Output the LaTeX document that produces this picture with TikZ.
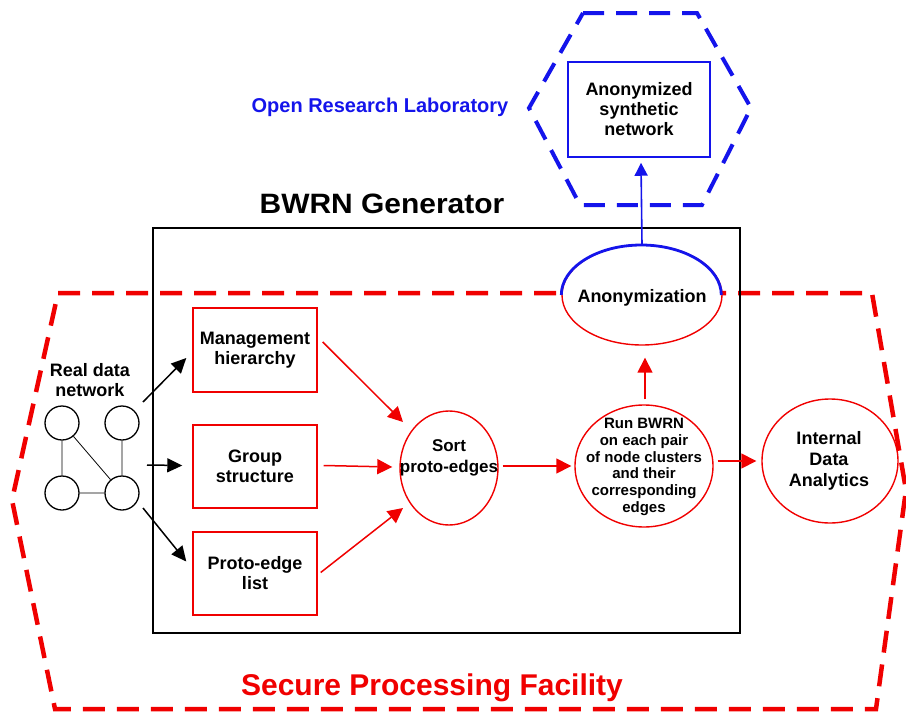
\documentclass[tikz,border=0pt]{standalone}
\usepackage{fontspec}
\setmainfont{Liberation Sans}
\usetikzlibrary{arrows.meta,shapes.geometric,calc}
\definecolor{myred}{RGB}{240,0,0}
\definecolor{myblue}{RGB}{20,20,235}
\begin{document}
\begin{tikzpicture}[x=1pt,y=-1pt,
  txt/.style={font=\bfseries\fontsize{18}{20}\selectfont, align=center, inner sep=0},
  redbox/.style={draw=myred, line width=1.4pt, minimum width=124pt, minimum height=84pt, txt},
  redell/.style={draw=myred, line width=1.4pt, ellipse, inner sep=0},
  redarr/.style={draw=myred, line width=1.5pt, -{Triangle[length=15pt,width=15pt]}},
  blkarr/.style={draw=black, line width=1.5pt, -{Triangle[length=15pt,width=14pt]}},
  bluearr/.style={draw=myblue, line width=1.6pt, -{Triangle[length=13pt,width=13pt]}},
  smallc/.style={circle, draw, line width=1.3pt, minimum size=34pt, inner sep=0},
]
\useasboundingbox (0,0) rectangle (906,715);

% secure processing facility outline
\draw[myred, line width=4.5pt, dash pattern=on 22pt off 12pt, line join=miter]
  (58,293) -- (872,293) -- (906,490) -- (876,709) -- (55,709) -- (12,500) -- cycle;

% generator box
\node[draw, line width=2.8pt, minimum width=587pt, minimum height=405pt, inner sep=0] (gen) at (446.5,430.5) {};
\node[txt, font=\bfseries\fontsize{28}{30}\selectfont] (gentitle) at (382,204) {\scalebox{1.07}[1]{BWRN Generator}};

% open research laboratory
\draw[myblue, line width=4pt, dash pattern=on 21pt off 12pt]
  (583,13) -- (697,13) -- (751,108) -- (702,205) -- (580,205) -- (529,108) -- cycle;
\node[draw=myblue, line width=1.5pt, minimum width=142pt, minimum height=95pt, txt] (syn) at (639,109.5) {Anonymized\\synthetic\\network};
\node[txt, text=myblue, font=\bfseries\fontsize{20}{22}\selectfont] (orl) at (380,107) {Open Research Laboratory};

% anonymization
\node[redell, fill=white, minimum width=160pt, minimum height=100pt] (anon) at (642,295) {};
\draw[myblue, line width=2.8pt] (anon.west) arc[start angle=180, end angle=360, x radius=80, y radius=50];
\node[txt] (anontxt) at (642,298) {Anonymization};

% run BWRN
\node[redell, minimum width=138pt, minimum height=122pt] (run) at (644,466) {};
\node[txt, font=\bfseries\fontsize{15}{16.7}\selectfont] (runtxt) at (644,467) {Run BWRN\\on each pair\\of node clusters\\and their\\corresponding\\edges};

% internal data analytics
\node[redell, minimum width=136pt, minimum height=124pt] (ida) at (830,461) {};
\node[txt, font=\bfseries\fontsize{18}{21}\selectfont] (idatxt) at (829,461) {Internal\\Data\\Analytics};

% sort
\node[redell, minimum width=98pt, minimum height=114pt] (sort) at (449,468) {};
\node[txt, font=\bfseries\fontsize{17}{21}\selectfont] (sorttxt) at (449,458) {Sort\\proto-edges};

% boxes
\node[redbox] (mgmt) at (255,350) {Management\\hierarchy};
\node[redbox, minimum height=83pt] (group) at (255,466.5) {Group\\structure};
\node[redbox, minimum height=83pt] (proto) at (255,573.5) {Proto-edge\\list};

% real data network
\node[txt] (rdn) at (90,380) {Real data\\network};
\node[smallc] (n1) at (62,423) {};
\node[smallc] (n2) at (122,423) {};
\node[smallc] (n3) at (62,493) {};
\node[smallc] (n4) at (122,493) {};
\draw[line width=0.8pt] (n1)--(n3) (n2)--(n4) (n3)--(n4) (n1)--(n4);

% black arrows
\draw[blkarr] ($(n2)+(21,-21)$) -- ($(mgmt.west)+(-6,8)$);
\draw[blkarr] ($(n4)+(25,-28)$) -- ($(group.west)+(-10,-1)$);
\draw[blkarr] ($(n4)+(21,15)$) -- ($(proto.west)+(-6,-12)$);

% red arrows
\draw[redarr] ($(mgmt.east)+(5,-8)$) -- ($(sort.center)+(-46,-46)$);
\draw[redarr] ($(group.east)+(6,-1)$) -- ($(sort.west)+(-7,-1)$);
\draw[redarr] ($(proto.east)+(3,-1)$) -- ($(sort.center)+(-46,40)$);
\draw[redarr] ($(sort.east)+(4,-2)$) -- ($(run.west)+(-3,0)$);
\draw[redarr] ($(run.east)+(4,-5)$) -- ($(ida.west)+(-5,0)$);
\draw[redarr] ($(run.north)+(1,-5)$) -- ($(anon.south)+(3,12)$);
\draw[bluearr] (anon.north) -- ($(syn.south)+(2,5)$);

% title
\node[txt, text=myred, font=\bfseries\fontsize{30}{32}\selectfont] (spf) at (432,688) {Secure Processing Facility};
\end{tikzpicture}
\end{document}
